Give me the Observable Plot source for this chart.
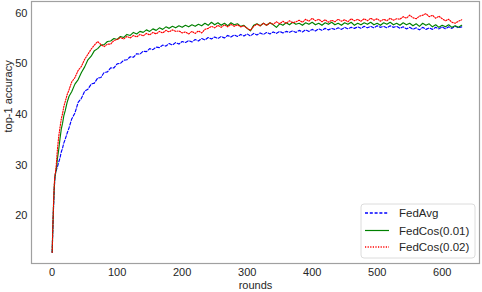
<!DOCTYPE html>
<html>
<head>
<meta charset="utf-8">
<script src="https://cdn.jsdelivr.net/npm/d3@7"></script>
<script src="https://cdn.jsdelivr.net/npm/@observablehq/plot@0.6"></script>
<style>
  body { margin: 0; background: #fff; }
  #chart { position: relative; width: 482px; height: 292px; }
</style>
</head>
<body>
<div id="chart"></div>
<script>
const rounds = [0,1,2,3,4,5,6,7,8,10,12,14,16,18,20,23,26,
  30,35,40,45,50,55,60,65,70,75,80,85,90,95,100,105,110,115,120,125,130,135,140,145,
  150,155,160,165,170,175,180,185,190,195,200,205,210,215,220,225,230,235,240,245,
  250,255,260,265,270,275,280,285,290,295,300,305,310,315,320,325,330,335,340,345,
  350,355,360,365,370,375,380,385,390,395,400,405,410,415,420,425,430,435,440,445,
  450,455,460,465,470,475,480,485,490,495,500,505,510,515,520,525,530,535,540,545,
  550,555,560,565,570,575,580,585,590,595,600,605,610,615,620,625,630];

const fedAvg = [12.8,17.2,21.3,24.6,27.2,28.3,28.7,29.3,29.6,30.6,31.4,32.6,33.4,34.4,35.1,36.3,37.4,
  39.1,40.3,42.4,43.2,44.6,45.0,46.0,46.2,47.2,47.3,48.3,48.4,49.2,49.2,50.0,50.1,50.7,50.8,51.4,51.3,52.0,51.9,52.5,52.4,
  53.0,52.8,53.3,53.2,53.7,53.5,54.0,53.7,54.2,53.9,54.4,54.2,54.6,54.3,54.8,54.5,55.0,54.7,55.2,54.9,
  55.3,55.0,55.4,55.1,55.6,55.3,55.7,55.4,55.8,55.5,55.9,55.5,56.0,55.7,56.1,55.8,56.2,55.9,56.3,56.0,
  56.4,56.1,56.4,56.2,56.5,56.2,56.6,56.3,56.7,56.4,56.8,56.5,56.9,56.6,57.0,56.7,57.0,56.8,57.1,56.8,
  57.2,56.9,57.2,57.0,57.3,57.0,57.4,57.1,57.4,57.1,57.5,57.2,57.4,57.1,57.5,57.2,57.4,57.0,57.3,56.9,
  57.2,56.8,57.1,56.7,57.2,56.8,57.1,56.8,57.2,56.9,57.3,56.9,57.3,57.0,57.4,57.1,57.3];

const fedCos001 = [12.8,17.6,21.7,25.1,27.4,28.3,29.0,29.9,31.2,33.0,35.2,37.1,38.3,39.8,40.7,42.4,43.6,
  44.5,46.0,46.9,48.3,49.4,50.8,51.5,52.6,53.0,53.7,53.8,54.4,54.5,55.0,54.8,55.4,55.2,55.8,55.6,56.2,55.9,56.4,56.2,56.7,
  56.4,56.9,56.6,57.1,56.8,57.3,57.0,57.4,57.1,57.5,57.2,57.6,57.3,57.7,57.4,57.8,57.5,58.0,57.6,58.2,
  57.7,58.1,57.6,58.0,57.5,58.1,57.7,57.9,57.4,57.6,57.0,56.5,57.6,57.9,57.5,58.0,57.6,58.1,57.7,57.2,
  57.9,57.6,58.1,57.7,58.2,57.8,58.0,57.6,58.1,57.8,58.2,57.7,58.0,57.6,58.1,57.8,58.2,57.7,58.0,57.6,
  58.1,57.8,58.2,57.6,58.0,57.7,58.1,57.8,58.2,57.7,58.0,57.6,58.1,57.8,58.2,57.7,58.0,57.6,58.1,57.7,
  58.0,57.5,57.9,57.4,58.0,57.6,57.9,57.3,57.7,57.2,57.6,57.3,57.7,57.2,57.5,57.2,57.6];

const fedCos002 = [12.8,17.9,22.1,25.6,27.7,28.5,29.6,31.2,33.0,35.6,37.4,39.1,40.2,41.6,42.5,43.9,44.9,
  46.4,47.3,48.7,49.5,50.9,51.9,52.9,53.7,54.4,53.8,53.4,53.9,53.9,54.6,54.8,55.2,54.9,55.4,55.1,55.6,55.3,55.8,55.5,56.0,
  55.7,56.2,55.9,56.4,56.1,56.6,56.3,56.7,56.4,56.5,56.1,56.3,55.9,56.4,56.0,56.5,56.1,56.8,57.0,57.4,
  57.1,57.6,57.2,57.7,57.3,57.8,57.4,57.7,57.3,57.5,57.0,56.6,57.4,57.8,57.5,58.0,57.6,58.1,57.8,58.3,
  57.9,58.4,58.0,58.5,58.1,58.3,58.6,58.2,58.8,58.4,59.0,58.5,58.8,58.3,58.7,58.2,58.6,58.3,58.8,58.4,
  58.7,58.3,58.9,58.5,58.8,58.4,58.9,58.5,59.0,58.6,58.9,58.4,58.8,58.5,59.0,58.6,58.9,58.8,59.3,59.0,
  59.6,59.1,58.9,59.4,59.6,59.9,59.3,59.6,59.0,59.4,58.9,58.5,58.8,58.2,58.0,58.4,58.7];

const seriesNames = ["FedAvg", "FedCos(0.01)", "FedCos(0.02)"];
const seriesColors = ["#0000ff", "#008000", "#ff0000"];
const seriesDash = ["3,1.8", null, "1.2,1.4"];
const xTicks = [0, 100, 200, 300, 400, 500, 600];
const yTicks = [20, 30, 40, 50, 60];

const seriesValues = [fedAvg, fedCos001, fedCos002];
const font = "'Liberation Sans', Arial, Helvetica, sans-serif";

const lineMarks = seriesValues.map((vals, i) =>
  Plot.line(rounds.map((r, j) => ({round: r, acc: vals[j]})), {
    x: "round", y: "acc",
    stroke: seriesColors[i], strokeWidth: 1.15,
    strokeDasharray: seriesDash[i] || undefined,
    curve: "linear"
  })
);

const chart = Plot.plot({
  width: 482, height: 292,
  marginLeft: 31, marginRight: 3, marginTop: 1, marginBottom: 29,
  style: {fontFamily: font, fontSize: "11px", color: "#262626", background: "#fff"},
  x: {domain: [-31.8, 657.4]},
  y: {domain: [10.6, 62.3]},
  marks: [
    Plot.axisX({ticks: xTicks, tickSize: 0, tickPadding: 5, label: null, fontSize: 11}),
    Plot.axisY({ticks: yTicks, tickSize: 0, tickPadding: 4, label: null, fontSize: 11}),
    ...lineMarks,
    Plot.frame({stroke: "#a0a0a0", strokeWidth: 1.2}),
    Plot.text(["rounds"], {frameAnchor: "bottom", dy: 22, lineAnchor: "middle", fontSize: 11, fill: "#262626"}),
    Plot.text(["top-1 accuracy"], {frameAnchor: "left", dx: -23.5, rotate: -90, lineAnchor: "middle", fontSize: 11, fill: "#262626"})
  ]
});

document.getElementById("chart").appendChild(chart);

// legend
const svg = d3.select(chart);
const lg = svg.append("g").attr("font-family", font).attr("font-size", 11.5).attr("text-anchor", "start");
lg.append("rect").attr("x", 361).attr("y", 204).attr("width", 114).attr("height", 54)
  .attr("rx", 3).attr("fill", "#fff").attr("fill-opacity", 0.85)
  .attr("stroke", "#dcdcdc").attr("stroke-width", 1);
const rowsY = [213, 230.5, 247];
seriesNames.forEach((name, i) => {
  const ln = lg.append("line").attr("x1", 365).attr("x2", 389).attr("y1", rowsY[i]).attr("y2", rowsY[i])
    .attr("stroke", seriesColors[i]).attr("stroke-width", seriesDash[i] ? 1.5 : 1.2);
  if (seriesDash[i]) ln.attr("stroke-dasharray", seriesDash[i]);
  lg.append("text").attr("x", 399).attr("y", rowsY[i]).attr("dy", "0.36em")
    .attr("text-anchor", "start").attr("fill", "#262626").text(name);
});
</script>
</body>
</html>
